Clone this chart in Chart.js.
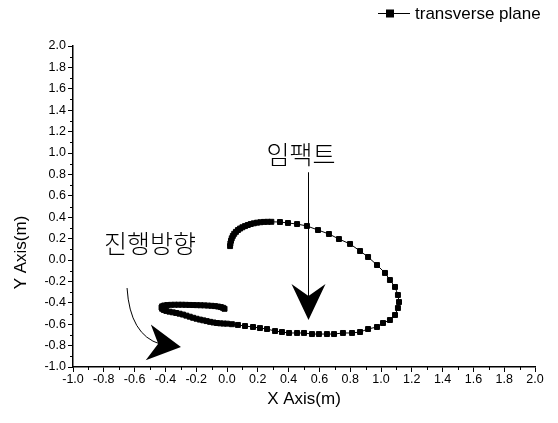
<!DOCTYPE html>
<html>
<head>
<meta charset="utf-8">
<script src="https://cdn.jsdelivr.net/npm/chart.js@4.4.0/dist/chart.umd.min.js"></script>
<style>
  body { margin: 0; background: #fff; }
  canvas { display: block; }
</style>
</head>
<body>
<canvas id="trajectory" width="558" height="423"></canvas>
<script>
// trajectory in the transverse plane (metres), in recording order
const seriesName = 'transverse plane';

const trajX = [
  0.020, 0.022, 0.026, 0.031, 0.038, 0.047, 0.058, 0.071, 0.085, 0.100,
  0.117, 0.135, 0.154, 0.174, 0.195, 0.217, 0.240, 0.264, 0.288,
  0.344, 0.396, 0.455, 0.519, 0.591, 0.662, 0.727, 0.799, 0.864, 0.916,
  0.974, 1.026, 1.058, 1.091, 1.110, 1.117, 1.110, 1.091, 1.058, 1.013,
  0.974, 0.916, 0.864, 0.812, 0.753, 0.695, 0.649, 0.597, 0.552, 0.500,
  0.455, 0.403, 0.357, 0.312, 0.260, 0.214, 0.169, 0.117, 0.071, 0.032,
  0.000, -0.022, -0.044, -0.066, -0.088, -0.110, -0.132, -0.154, -0.176, -0.198,
  -0.220, -0.242, -0.264, -0.286, -0.308, -0.330, -0.352, -0.374, -0.394, -0.410,
  -0.421, -0.425, -0.421, -0.408, -0.388, -0.364, -0.340, -0.316, -0.292, -0.268,
  -0.244, -0.220, -0.196, -0.172, -0.148, -0.124, -0.100, -0.078, -0.058, -0.040,
  -0.026, -0.016
];

const trajY = [
  0.130, 0.155, 0.180, 0.203, 0.225, 0.245, 0.263, 0.280, 0.294, 0.306,
  0.317, 0.327, 0.336, 0.343, 0.349, 0.353, 0.356, 0.357, 0.357,
  0.355, 0.346, 0.336, 0.318, 0.280, 0.243, 0.196, 0.150, 0.084, 0.028,
  -0.047, -0.121, -0.187, -0.252, -0.327, -0.393, -0.449, -0.514, -0.561, -0.589,
  -0.626, -0.645, -0.673, -0.682, -0.682, -0.692, -0.692, -0.692, -0.692, -0.682,
  -0.682, -0.682, -0.673, -0.664, -0.645, -0.636, -0.626, -0.617, -0.607, -0.600,
  -0.595, -0.594, -0.592, -0.589, -0.584, -0.578, -0.571, -0.564, -0.557, -0.549,
  -0.540, -0.530, -0.520, -0.510, -0.502, -0.495, -0.489, -0.483, -0.476, -0.467,
  -0.456, -0.444, -0.433, -0.425, -0.421, -0.419, -0.418, -0.418, -0.418, -0.419,
  -0.420, -0.421, -0.422, -0.423, -0.424, -0.426, -0.428, -0.431, -0.435, -0.440,
  -0.447, -0.456
];

// axis range and labels
const axisMin = -1.0;
const axisMax = 2.0;
const tickStep = 0.2;
const xTitle = 'X Axis(m)';
const yTitle = 'Y Axis(m)';
const yTitleCenter = 0.07;

// notes on the plot, placed in data units
const impactText = '임팩트';
const impactTextAt = { x: 0.48, y: 0.99 };
const impactFrom = { x: 0.526, y: 0.82 };
const impactTo = { x: 0.526, y: -0.56 };

const directionText = '진행방향';
const directionTextAt = { x: -0.50, y: 0.155 };
const directionCurve = [
  { x: -0.649, y: -0.262 },
  { x: -0.630, y: -0.700 },
  { x: -0.435, y: -0.785 }
];
const directionTip = { x: -0.299, y: -0.813 };

const latin = '"Liberation Sans", Arial, sans-serif';
const hangul = '"Noto Sans CJK KR", sans-serif';

const points = trajX.map((x, i) => ({ x: x, y: trajY[i] }));

function arrowHead(ctx, tipX, tipY, angle, len, half, notch) {
  ctx.save();
  ctx.translate(tipX, tipY);
  ctx.rotate(angle);
  ctx.beginPath();
  ctx.moveTo(0, 0);
  ctx.lineTo(-len, -half);
  ctx.lineTo(-len + notch, 0);
  ctx.lineTo(-len, half);
  ctx.closePath();
  ctx.fill();
  ctx.restore();
}

// small ticks halfway between the labelled ones
const minorTicks = {
  id: 'minorTicks',
  afterDraw(chart) {
    const { ctx, scales: { x, y } } = chart;
    ctx.save();
    ctx.strokeStyle = '#000';
    ctx.lineWidth = 1;
    ctx.beginPath();
    for (let v = axisMin + tickStep / 2; v < axisMax; v += tickStep) {
      const px = Math.round(x.getPixelForValue(v)) + 0.5;
      ctx.moveTo(px, x.top);
      ctx.lineTo(px, x.top + 3);
      const py = Math.round(y.getPixelForValue(v)) + 0.5;
      ctx.moveTo(y.right, py);
      ctx.lineTo(y.right - 3, py);
    }
    ctx.stroke();
    ctx.restore();
  }
};

// y title, legend and the two arrows with their notes
const notes = {
  id: 'notes',
  afterDraw(chart) {
    const { ctx, scales: { x, y } } = chart;
    const X = v => x.getPixelForValue(v);
    const Y = v => y.getPixelForValue(v);
    ctx.save();
    ctx.fillStyle = '#000';
    ctx.strokeStyle = '#000';

    // y axis title
    ctx.save();
    ctx.translate(y.left + 21, Y(yTitleCenter));
    ctx.rotate(-Math.PI / 2);
    ctx.font = '17px ' + latin;
    ctx.textAlign = 'center';
    ctx.textBaseline = 'middle';
    ctx.fillText(yTitle, 0, 0);
    ctx.restore();

    // legend
    const lx = chart.width - 180;
    const ly = 13;
    ctx.lineWidth = 1;
    ctx.beginPath();
    ctx.moveTo(lx, ly + 0.5);
    ctx.lineTo(lx + 32, ly + 0.5);
    ctx.stroke();
    ctx.fillRect(lx + 8, ly - 3.5, 8, 8);
    ctx.font = '17px ' + latin;
    ctx.textAlign = 'left';
    ctx.textBaseline = 'middle';
    ctx.fillText(seriesName, lx + 37, ly + 1);

    // impact marker
    ctx.font = '300 25px ' + hangul;
    ctx.textAlign = 'center';
    ctx.fillText(impactText, X(impactTextAt.x), Y(impactTextAt.y));
    ctx.lineWidth = 1;
    ctx.beginPath();
    ctx.moveTo(Math.round(X(impactFrom.x)) + 0.5, Y(impactFrom.y));
    ctx.lineTo(Math.round(X(impactTo.x)) + 0.5, Y(impactTo.y) - 20);
    ctx.stroke();
    arrowHead(ctx, X(impactTo.x) + 0.5, Y(impactTo.y), Math.PI / 2, 36, 17, 12);

    // direction of travel
    ctx.fillText(directionText, X(directionTextAt.x), Y(directionTextAt.y));
    const [s, c, e] = directionCurve;
    ctx.beginPath();
    ctx.moveTo(X(s.x), Y(s.y));
    ctx.quadraticCurveTo(X(c.x), Y(c.y), X(e.x), Y(e.y));
    ctx.stroke();
    const tx = X(directionTip.x), ty = Y(directionTip.y);
    const ang = Math.atan2(ty - Y(e.y), tx - X(e.x));
    arrowHead(ctx, tx, ty, ang, 33, 18, 10);

    ctx.restore();
  }
};

const tickFont = { family: latin, size: 12.5 };

new Chart(document.getElementById('trajectory'), {
  type: 'scatter',
  data: {
    datasets: [{
      label: seriesName,
      data: points,
      showLine: true,
      borderColor: '#000',
      borderWidth: 1,
      pointStyle: 'rect',
      pointRadius: 3.5,
      pointBorderWidth: 1,
      pointBackgroundColor: '#000',
      pointBorderColor: '#000'
    }]
  },
  options: {
    responsive: false,
    animation: false,
    devicePixelRatio: 1,
    layout: { padding: { top: 46, right: 23, left: 0, bottom: 0 } },
    plugins: {
      legend: { display: false },
      tooltip: { enabled: false }
    },
    scales: {
      x: {
        type: 'linear',
        min: axisMin,
        max: axisMax,
        afterFit(scale) { scale.height = 56; },
        border: { display: true, color: '#000', width: 1.5 },
        grid: { drawOnChartArea: false, drawTicks: true, tickLength: 5, color: '#000' },
        ticks: {
          stepSize: tickStep,
          color: '#000',
          font: tickFont,
          padding: 0,
          maxRotation: 0,
          autoSkip: false,
          callback: v => v.toFixed(1)
        },
        title: {
          display: true,
          text: xTitle,
          color: '#000',
          font: { family: latin, size: 17 },
          padding: { top: 0, bottom: 13 }
        }
      },
      y: {
        type: 'linear',
        min: axisMin,
        max: axisMax,
        afterFit(scale) { scale.width = 73; },
        border: { display: true, color: '#000', width: 1.5 },
        grid: { drawOnChartArea: false, drawTicks: true, tickLength: 5, color: '#000' },
        ticks: {
          stepSize: tickStep,
          color: '#000',
          font: tickFont,
          padding: 2,
          autoSkip: false,
          callback: v => v.toFixed(1)
        }
      }
    }
  },
  plugins: [minorTicks, notes]
});
</script>
</body>
</html>
